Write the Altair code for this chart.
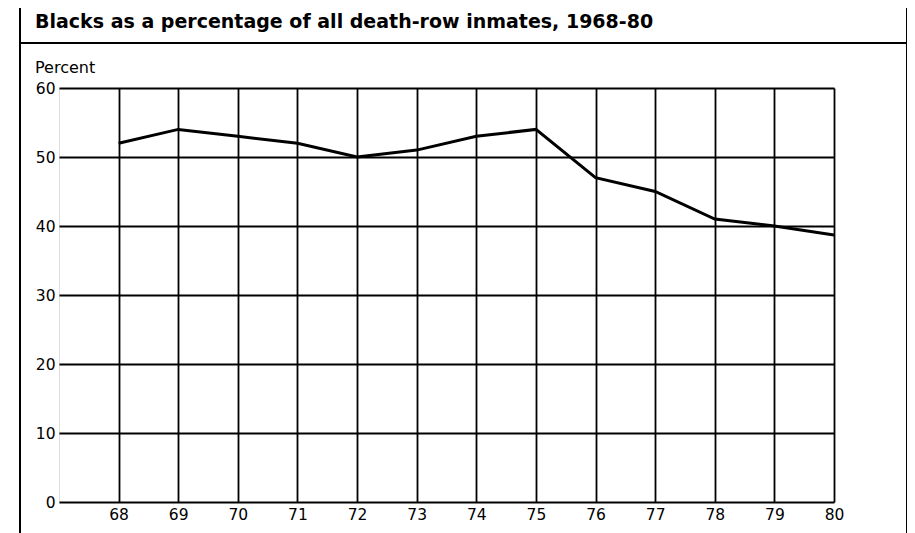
import altair as alt
import pandas as pd

years = [68, 69, 70, 71, 72, 73, 74, 75, 76, 77, 78, 79, 80]
percent = [52, 54, 53, 52, 50, 51, 53, 54, 47, 45, 41, 40, 38.7]
y_ticks = [0, 10, 20, 30, 40, 50, 60]
title_text = "Blacks as a percentage of all death-row inmates, 1968-80"
y_label = "Percent"

df = pd.DataFrame({"year": years, "pct": percent})
one = pd.DataFrame({"a": [0]})

W, H = 775, 414
FONT = "DejaVu Sans"

x = alt.X("year:Q", scale=alt.Scale(domain=[67, 80], nice=False, zero=False),
          axis=alt.Axis(values=years, format="d", title=None, ticks=False, domain=False,
                        grid=True, gridColor="black", gridWidth=1.8, gridOpacity=1,
                        labelFont=FONT, labelFontSize=15.5, labelColor="black",
                        labelPadding=5, labelFlush=False))
y = alt.Y("pct:Q", scale=alt.Scale(domain=[0, 60], nice=False),
          axis=alt.Axis(values=y_ticks, title=None, ticks=False, domain=False,
                        grid=True, gridColor="black", gridWidth=1.8, gridOpacity=1,
                        labelFont=FONT, labelFontSize=15.5, labelColor="black",
                        labelPadding=4))

line = alt.Chart(df).mark_line(color="black", strokeWidth=3).encode(x=x, y=y)

left_border = alt.Chart(one).mark_rule(color="black", strokeWidth=2).encode(
    x=alt.value(-39), y=alt.value(-80), y2=alt.value(445))
right_border = alt.Chart(one).mark_rule(color="black", strokeWidth=2).encode(
    x=alt.value(848), y=alt.value(-80), y2=alt.value(445))
divider = alt.Chart(one).mark_rule(color="black", strokeWidth=2).encode(
    x=alt.value(-39), x2=alt.value(848), y=alt.value(-45))

title = alt.Chart(one).mark_text(align="left", baseline="middle", font=FONT,
                                 fontSize=19, fontWeight="bold", color="black").encode(
    x=alt.value(-24), y=alt.value(-66), text=alt.value(title_text))
ylab = alt.Chart(one).mark_text(align="left", baseline="middle", font=FONT,
                                fontSize=16, color="black").encode(
    x=alt.value(-24), y=alt.value(-20), text=alt.value(y_label))

chart = alt.layer(line, left_border, right_border, divider, title, ylab).properties(
    width=W, height=H,
    autosize=alt.AutoSizeParams(type="none"),
    padding={"left": 51, "top": 80, "right": 73, "bottom": 31},
).configure_view(stroke="black", strokeWidth=2).configure(background="white")

chart.save("out.html", embed_options={"renderer": "svg", "actions": False})
